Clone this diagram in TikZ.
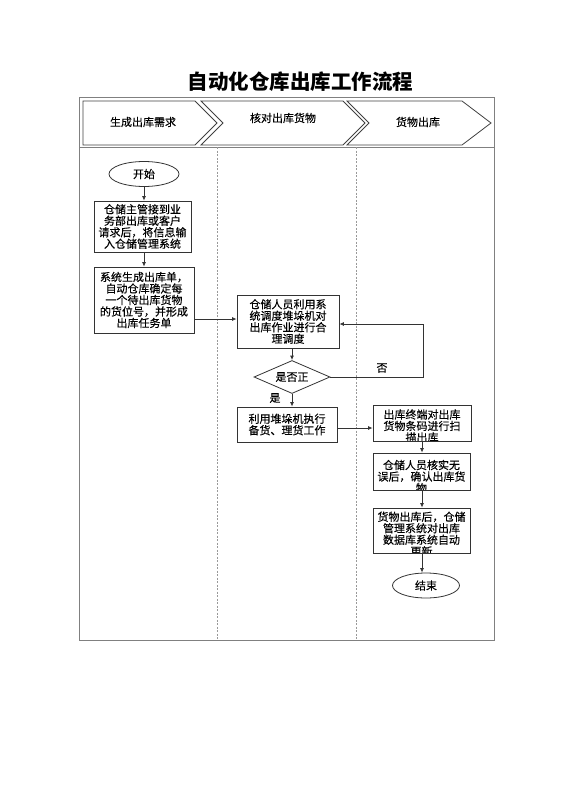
\documentclass[tikz,border=0pt]{standalone}
\usepackage{fontspec}
\setmainfont{Noto Sans CJK SC}
\newfontfamily\boxfont{Noto Sans CJK SC}[FakeBold=0.3]
\usetikzlibrary{shapes.geometric,arrows.meta,calc}
\begin{document}
\begin{tikzpicture}[x=1pt,y=-1pt,
  txt/.style={font=\boxfont\fontsize{11}{11.5}\selectfont, align=center, text=black},
  box/.style={draw=black!80, line width=0.8pt, rectangle, inner sep=0pt, fill=white, txt},
  clipped/.style 2 args={path picture={\node[txt, inner sep=0pt] at ([yshift=#1]path picture bounding box.center) {#2};}},
  term/.style={ellipse, draw=black!80, line width=0.8pt, inner sep=0pt, minimum width=70pt, minimum height=25pt, txt},
  decide/.style={diamond, draw=black!80, line width=0.8pt, inner sep=0pt, aspect=2.3, minimum width=76pt, minimum height=33pt, txt},
  arr/.style={draw=black!80, line width=0.8pt, -{Latex[length=4.5pt,width=4pt]}},
  chev/.style={draw=black!75, line width=0.8pt},
  frame/.style={draw=black!50, line width=1pt},
  lane/.style={draw=black!40, line width=0.8pt, dash pattern=on 2pt off 1.5pt},
]
\useasboundingbox (0,0) rectangle (560,792);

% title
\node[font=\fontsize{20.5}{24}\selectfont\bfseries] (title) at (300.5,82) {自动化仓库出库工作流程};

% frame and lanes
\draw[frame] (79,97) rectangle (494,640);
\draw[frame] (79,147) -- (494,147);
\draw[lane] (217,147) -- (217,640);
\draw[lane] (356,147) -- (356,640);

% header chevrons
\draw[chev] (83,101) -- (195,101) -- (217,123) -- (195,145) -- (83,145) -- cycle;
\draw[chev] (201,101) -- (343,101) -- (365,123) -- (343,145) -- (201,145) -- (223,123) -- cycle;
\draw[chev] (347,101) -- (462,101) -- (491,123) -- (462,145) -- (347,145) -- (369,123) -- cycle;
\node[txt] (h1) at (143,122) {生成出库需求};
\node[txt] (h2) at (283,118) {核对出库货物};
\node[txt] (h3) at (418,122) {货物出库};

% lane 1
\node[term] (start) at (144,174) {开始};
\node[box, minimum width=97pt, minimum height=51pt] (b1) at (142.5,226.5)
  {仓储主管接到业\\务部出库或客户\\请求后，将信息输\\入仓储管理系统};
\node[box, minimum width=100pt, minimum height=66pt] (b2) at (144,300)
  {系统生成出库单，\\自动仓库确定每\\一个待出库货物\\的货位号，并形成\\出库任务单};

% lane 2
\node[box, minimum width=102pt, minimum height=53pt] (b3) at (288,321.5)
  {仓储人员利用系\\统调度堆垛机对\\出库作业进行合\\理调度};
\node[decide] (dia) at (292,377) {是否正};
\node[box, minimum width=100pt, minimum height=35pt] (b4) at (287,424.5)
  {利用堆垛机执行\\备货、理货工作};
\node[txt] (yes) at (275,398) {是};
\node[txt] (no) at (382,368) {否};
\coordinate (fb) at (423,324);

% lane 3
\node[box, minimum width=98pt, minimum height=36pt, clipped={-3pt}{出库终端对出库\\货物条码进行扫\\描出库}] (b5) at (422,423) {};
\node[box, minimum width=97pt, minimum height=37pt, clipped={-5pt}{仓储人员核实无\\误后，确认出库货\\物}] (b6) at (421.5,471.5) {};
\node[box, minimum width=97pt, minimum height=45pt, clipped={-3.5pt}{货物出库后，仓储\\管理系统对出库\\数据库系统自动\\更新}] (b7) at (421.5,530.5) {};
\node[term, minimum width=67pt] (end) at (426,585.5) {结束};

% connectors
\draw[arr] (start.south) -- (start.south |- b1.north);
\draw[arr] (b1.south -| start) -- (b2.north -| start);
\draw[arr] ([yshift=2.5pt]b3.west -| b2.east) -- ([yshift=2.5pt]b3.west);
\draw[arr] (dia.north |- b3.south) -- (dia.north);
\draw[arr] (dia.south) -- (dia.south |- b4.north);
\draw[arr] (dia.east) -| (fb) -- (fb -| b3.east);
\draw[arr] ([yshift=-3.5pt]b4.east) -- ([yshift=-3.5pt]b4.east -| b5.west);
\draw[arr] (b5.south) -- (b5.south |- b6.north);
\draw[arr] (b5.south |- b6.south) -- (b5.south |- b7.north);
\draw[arr] (b5.south |- b7.south) -- (b5.south |- end.north);
\end{tikzpicture}
\end{document}
